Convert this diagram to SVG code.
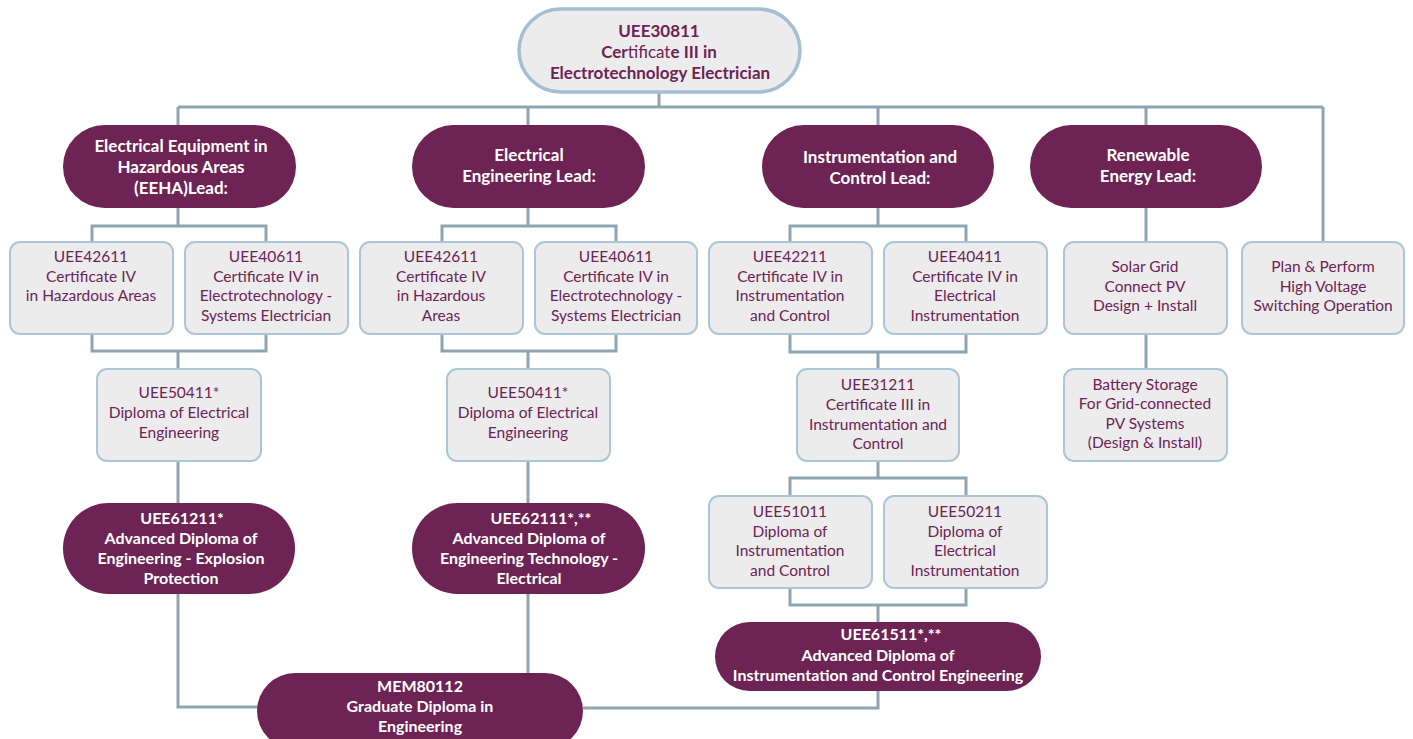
<svg xmlns="http://www.w3.org/2000/svg" width="1413" height="739" viewBox="0 0 1413 739">
<style>
.c{fill:none;stroke:#8da4b2;stroke-width:3}
.box{fill:#ececec;stroke:#aac7d8;stroke-width:2}
.pill{fill:#6d2354}
.top{fill:#ececec;stroke:#a3c0d2;stroke-width:3.5}
.t{font-family:Lato,"Open Sans",sans-serif;font-size:15.5px;fill:#6d2354;text-anchor:middle}
.w{font-family:Lato,"Open Sans",sans-serif;font-size:16px;font-weight:bold;fill:#ffffff;text-anchor:middle}
.L{font-size:17px}
.b{font-weight:bold}
.tb{font-size:17px}
</style>
<rect width="1413" height="739" fill="#ffffff"/>
<g id="connectors">
<path class="c" d="M659 92V107M178 107H1323M178 107V125M528 107V125M878 107V125M1146 107V125M1323 107V242"/>
<path class="c" d="M178 208V226M92 242V226H266V242M92 334V351H266V334M178 351V369M178 461V503M178 594V707H258"/>
<path class="c" d="M528 208V226M442 242V226H616V242M442 334V351H616V334M528 351V369M528 461V503M528 594V673"/>
<path class="c" d="M878 208V226M790 242V226H966V242M790 334V352H966V334M878 352V369M878 461V478M790 496V478H966V496M790 588V605H966V588M878 605V622M878 691V708H583"/>
<path class="c" d="M1146 208V242M1146 334V369"/>
</g>
<g id="n-top"><rect class="top" x="519" y="9" width="281" height="83" rx="41.5"/>
<text class="t b tb" x="659" y="37">UEE30811</text>
<text class="t tb" x="659" y="58"><tspan class="b">Cer</tspan>tificat<tspan class="b">e III in</tspan></text>
<text class="t b tb" x="660" y="79">Electrotechnology Electrician</text></g>
<g id="n-eeha"><rect class="pill" x="63" y="125" width="233" height="83" rx="41.5"/>
<text class="w L" x="181" y="152">Electrical Equipment in</text>
<text class="w L" x="181" y="173">Hazardous Areas</text>
<text class="w L" x="181" y="194">(EEHA)Lead:</text></g>
<g id="n-eelead"><rect class="pill" x="412" y="125" width="233" height="83" rx="41.5"/>
<text class="w L" x="529" y="161">Electrical</text>
<text class="w L" x="529" y="182">Engineering Lead:</text></g>
<g id="n-iclead"><rect class="pill" x="762" y="125" width="232" height="83" rx="41.5"/>
<text class="w L" x="880" y="163">Instrumentation and</text>
<text class="w L" x="880" y="184">Control Lead:</text></g>
<g id="n-relead"><rect class="pill" x="1030" y="125" width="232" height="83" rx="41.5"/>
<text class="w L" x="1148" y="161">Renewable</text>
<text class="w L" x="1148" y="182">Energy Lead:</text></g>
<g id="n-42611a"><rect class="box" x="10" y="242" width="163" height="92" rx="10"/>
<text class="t" x="91" y="262">UEE42611</text>
<text class="t" x="91" y="282">Certificate IV</text>
<text class="t" x="91" y="301">in Hazardous Areas</text></g>
<g id="n-40611a"><rect class="box" x="185" y="242" width="163" height="92" rx="10"/>
<text class="t" x="266" y="262">UEE40611</text>
<text class="t" x="266" y="282">Certificate IV in</text>
<text class="t" x="266" y="301">Electrotechnology -</text>
<text class="t" x="266" y="321">Systems Electrician</text></g>
<g id="n-42611b"><rect class="box" x="360" y="242" width="163" height="92" rx="10"/>
<text class="t" x="441" y="262">UEE42611</text>
<text class="t" x="441" y="282">Certificate IV</text>
<text class="t" x="441" y="301">in Hazardous</text>
<text class="t" x="441" y="321">Areas</text></g>
<g id="n-40611b"><rect class="box" x="535" y="242" width="162" height="92" rx="10"/>
<text class="t" x="616" y="262">UEE40611</text>
<text class="t" x="616" y="282">Certificate IV in</text>
<text class="t" x="616" y="301">Electrotechnology -</text>
<text class="t" x="616" y="321">Systems Electrician</text></g>
<g id="n-42211"><rect class="box" x="709" y="242" width="163" height="92" rx="10"/>
<text class="t" x="790" y="262">UEE42211</text>
<text class="t" x="790" y="282">Certificate IV in</text>
<text class="t" x="790" y="301">Instrumentation</text>
<text class="t" x="790" y="321">and Control</text></g>
<g id="n-40411"><rect class="box" x="884" y="242" width="163" height="92" rx="10"/>
<text class="t" x="965" y="262">UEE40411</text>
<text class="t" x="965" y="282">Certificate IV in</text>
<text class="t" x="965" y="301">Electrical</text>
<text class="t" x="965" y="321">Instrumentation</text></g>
<g id="n-solar"><rect class="box" x="1064" y="242" width="163" height="92" rx="10"/>
<text class="t" x="1145" y="272">Solar Grid</text>
<text class="t" x="1145" y="292">Connect PV</text>
<text class="t" x="1145" y="311">Design + Install</text></g>
<g id="n-hv"><rect class="box" x="1242" y="242" width="162" height="92" rx="10"/>
<text class="t" x="1323" y="272">Plan &amp; Perform</text>
<text class="t" x="1323" y="292">High Voltage</text>
<text class="t" x="1323" y="311">Switching Operation</text></g>
<g id="n-50411a"><rect class="box" x="97" y="369" width="164" height="92" rx="10"/>
<text class="t" x="179" y="398">UEE50411*</text>
<text class="t" x="179" y="418">Diploma of Electrical</text>
<text class="t" x="179" y="438">Engineering</text></g>
<g id="n-50411b"><rect class="box" x="447" y="369" width="163" height="92" rx="10"/>
<text class="t" x="528" y="398">UEE50411*</text>
<text class="t" x="528" y="418">Diploma of Electrical</text>
<text class="t" x="528" y="438">Engineering</text></g>
<g id="n-31211"><rect class="box" x="797" y="369" width="162" height="92" rx="10"/>
<text class="t" x="878" y="390">UEE31211</text>
<text class="t" x="878" y="410">Certificate III in</text>
<text class="t" x="878" y="430">Instrumentation and</text>
<text class="t" x="878" y="449">Control</text></g>
<g id="n-battery"><rect class="box" x="1064" y="369" width="163" height="92" rx="10"/>
<text class="t" x="1145" y="390">Battery Storage</text>
<text class="t" x="1145" y="409">For Grid-connected</text>
<text class="t" x="1145" y="429">PV Systems</text>
<text class="t" x="1145" y="448">(Design &amp; Install)</text></g>
<g id="n-51011"><rect class="box" x="709" y="496" width="163" height="92" rx="10"/>
<text class="t" x="790" y="517">UEE51011</text>
<text class="t" x="790" y="537">Diploma of</text>
<text class="t" x="790" y="556">Instrumentation</text>
<text class="t" x="790" y="576">and Control</text></g>
<g id="n-50211"><rect class="box" x="884" y="496" width="163" height="92" rx="10"/>
<text class="t" x="965" y="517">UEE50211</text>
<text class="t" x="965" y="537">Diploma of</text>
<text class="t" x="965" y="556">Electrical</text>
<text class="t" x="965" y="576">Instrumentation</text></g>
<g id="n-61211"><rect class="pill" x="63" y="503" width="232" height="91" rx="45.5"/>
<text class="w" x="182" y="524">UEE61211*</text>
<text class="w" x="181" y="544">Advanced Diploma of</text>
<text class="w" x="181" y="564">Engineering - Explosion</text>
<text class="w" x="181" y="584">Protection</text></g>
<g id="n-62111"><rect class="pill" x="412" y="503" width="233" height="91" rx="45.5"/>
<text class="w" x="541" y="524">UEE62111*,**</text>
<text class="w" x="529" y="544">Advanced Diploma of</text>
<text class="w" x="529" y="564">Engineering Technology -</text>
<text class="w" x="529" y="584">Electrical</text></g>
<g id="n-61511"><rect class="pill" x="715" y="622" width="326" height="69" rx="34.5"/>
<text class="w" x="891" y="640">UEE61511*,**</text>
<text class="w" x="878" y="661">Advanced Diploma of</text>
<text class="w" x="878" y="681">Instrumentation and Control Engineering</text></g>
<g id="n-mem"><rect class="pill" x="257" y="673" width="326" height="76" rx="38"/>
<text class="w" x="420" y="692">MEM80112</text>
<text class="w" x="420" y="712">Graduate Diploma in</text>
<text class="w" x="420" y="732">Engineering</text></g>
</svg>
